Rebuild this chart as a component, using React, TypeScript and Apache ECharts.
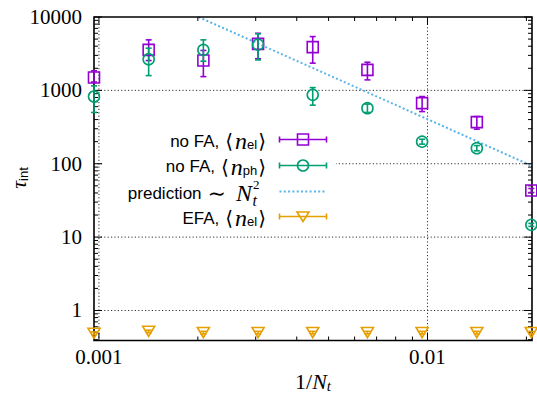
import React, { useEffect, useRef } from 'react';
import * as echarts from 'echarts';

// 1/N_t values
const xValues = [0.000966, 0.001417, 0.002079, 0.00305, 0.004474, 0.006564, 0.009629, 0.01413, 0.0207];

// no FA, <n_el>
const elValues = [1500, 3560, 2550, 4300, 3880, 1900, 670, 369, 43.1];
const elLow = [1300, 2550, 1540, 2700, 2350, 1390, 514, 296, 40.5];
const elHigh = [1850, 4880, 3500, 6000, 5410, 2420, 824, 440, 46];

// no FA, <n_ph>
const phValues = [824, 2660, 3560, 4200, 869, 572, 200, 163, 14.7];
const phLow = [500, 1590, 2500, 2600, 629, 500, 185, 150, 14];
const phHigh = [1150, 3760, 4880, 5900, 1091, 650, 216, 177, 15.4];

// EFA, <n_el>
const efaValues = [0.49, 0.52, 0.5, 0.5, 0.5, 0.5, 0.5, 0.5, 0.5];
const efaLow = [0.47, 0.5, 0.48, 0.48, 0.48, 0.48, 0.48, 0.48, 0.48];
const efaHigh = [0.51, 0.54, 0.52, 0.52, 0.52, 0.52, 0.52, 0.52, 0.52];

// prediction ~ N_t^2 (straight line in log-log, endpoints)
const predictionX = [0.00201, 0.0207];
const predictionY = [10000, 94.5];

// axes
const xMin = 0.000966;
const xMax = 0.0208;
const yMin = 0.39;
const yMax = 10000;
const xMajorTicks = [0.001, 0.01];
const xTickLabels = ['0.001', '0.01'];
const xMinorTicks = [0.002, 0.003, 0.004, 0.005, 0.006, 0.007, 0.008, 0.009, 0.02];
const yMajorTicks = [1, 10, 100, 1000, 10000];
const yTickLabels = ['1', '10', '100', '1000', '10000'];
const yMinorTicks = [
  0.4, 0.5, 0.6, 0.7, 0.8, 0.9,
  2, 3, 4, 5, 6, 7, 8, 9,
  20, 30, 40, 50, 60, 70, 80, 90,
  200, 300, 400, 500, 600, 700, 800, 900,
  2000, 3000, 4000, 5000, 6000, 7000, 8000, 9000,
];

const PURPLE = '#9400d3';
const GREEN = '#009e73';
const BLUE = '#56b4e9';
const ORANGE = '#e69f00';

const SERIF = '"Liberation Serif", "DejaVu Serif", serif';
const SANS = '"Liberation Sans", "DejaVu Sans", sans-serif';
const MATH = '"DejaVu Serif", serif';

function isDecade(v: number, list: number[]) {
  for (let i = 0; i < list.length; i++) {
    if (Math.abs(Math.log10(v) - Math.log10(list[i])) < 1e-6) return i;
  }
  return -1;
}

function errorBarSeries(name: string, vals: number[], lo: number[], hi: number[], color: string) {
  return {
    type: 'custom',
    name,
    clip: false,
    z: 7,
    data: xValues.map((x, i) => [x, vals[i], lo[i], hi[i]]),
    renderItem: (params: any, api: any) => {
      const x = api.value(0);
      const pLo = api.coord([x, api.value(2)]);
      const pHi = api.coord([x, api.value(3)]);
      const cw = 3;
      const st = { stroke: color, lineWidth: 1.6 };
      return {
        type: 'group',
        children: [
          { type: 'line', shape: { x1: pLo[0], y1: pLo[1], x2: pHi[0], y2: pHi[1] }, style: st },
          { type: 'line', shape: { x1: pLo[0] - cw, y1: pLo[1], x2: pLo[0] + cw, y2: pLo[1] }, style: st },
          { type: 'line', shape: { x1: pHi[0] - cw, y1: pHi[1], x2: pHi[0] + cw, y2: pHi[1] }, style: st },
        ],
      };
    },
  };
}

function markerSeries(name: string, vals: number[], color: string, symbol: string, size: any, rotate = 0) {
  return {
    type: 'scatter',
    name,
    clip: false,
    z: 8,
    symbol,
    symbolSize: size,
    symbolRotate: rotate,
    data: xValues.map((x, i) => [x, vals[i]]),
    itemStyle: { color: 'none', borderColor: color, borderWidth: 1.6, opacity: 1 },
    emphasis: { disabled: true },
  };
}

const richMain = {
  s: { fontFamily: SANS, fontSize: 17, color: '#000', lineHeight: 16 },
  m: { fontFamily: MATH, fontSize: 20, color: '#000', lineHeight: 16, padding: [0, 1, 0, 1] },
  mo: { fontFamily: MATH, fontSize: 20, color: '#000', lineHeight: 16, padding: [0, 2, 0, 6] },
  sim: { fontFamily: MATH, fontSize: 22, color: '#000', lineHeight: 16, padding: [0, 10, 0, 6] },
  i: { fontFamily: SERIF, fontStyle: 'italic', fontSize: 24, color: '#000', lineHeight: 16 },
  sub: { fontFamily: SANS, fontSize: 13, color: '#000', lineHeight: 8, padding: [7, 0, 0, 0] },
};

export default function App() {
  const ref = useRef<HTMLDivElement>(null);

  useEffect(() => {
    if (!ref.current) return;
    const chart = echarts.init(ref.current, undefined, { renderer: 'svg' });

    const rowsY = [139.5, 165.5, 191.5, 216.5];
    const textRight = 267;
    const sx1 = 279.5;
    const sx2 = 326.5;
    const mx = 303;

    const legendSample = (y: number, color: string) => [
      { type: 'line', z: 20, shape: { x1: sx1, y1: y, x2: sx2, y2: y }, style: { stroke: color, lineWidth: 1.6 } },
      { type: 'line', z: 20, shape: { x1: sx1, y1: y - 3, x2: sx1, y2: y + 3 }, style: { stroke: color, lineWidth: 1.6 } },
      { type: 'line', z: 20, shape: { x1: sx2, y1: y - 3, x2: sx2, y2: y + 3 }, style: { stroke: color, lineWidth: 1.6 } },
    ];

    const option: any = {
      animation: false,
      grid: { left: 94, top: 17, width: 438, height: 323.5, containLabel: false },
      xAxis: {
        type: 'log',
        logBase: 10,
        min: xMin,
        max: xMax,
        axisLine: { show: false },
        axisTick: { show: false },
        splitLine: { show: false },
        axisLabel: {
          interval: 0,
          margin: 6,
          fontFamily: SERIF,
          fontSize: 21,
          color: '#000',
          formatter: (v: number) => {
            const k = isDecade(v, xMajorTicks);
            return k >= 0 ? xTickLabels[k] : '';
          },
        },
      },
      yAxis: {
        type: 'log',
        logBase: 10,
        min: yMin,
        max: yMax,
        axisLine: { show: false },
        axisTick: { show: false },
        splitLine: { show: false },
        axisLabel: {
          interval: 0,
          margin: 12,
          fontFamily: SERIF,
          fontSize: 21,
          color: '#000',
          formatter: (v: number) => {
            const k = isDecade(v, yMajorTicks);
            return k >= 0 ? yTickLabels[k] : '';
          },
        },
      },
      series: [
        // grid lines
        {
          type: 'custom',
          name: 'grid',
          z: 1,
          silent: true,
          clip: false,
          data: [
            ...xMajorTicks.map((v) => [v, 1, 0]),
            ...yMajorTicks.filter((v) => v < yMax).map((v) => [0.001, v, 1]),
          ],
          renderItem: (params: any, api: any) => {
            const cs = params.coordSys;
            const p = api.coord([api.value(0), api.value(1)]);
            const st = { stroke: '#333', lineWidth: 1, lineDash: [1.2, 2.2] };
            if (api.value(2) === 0) {
              return { type: 'line', shape: { x1: p[0], y1: cs.y, x2: p[0], y2: cs.y + cs.height }, style: st };
            }
            return { type: 'line', shape: { x1: cs.x, y1: p[1], x2: cs.x + cs.width, y2: p[1] }, style: st };
          },
        },
        // ticks
        {
          type: 'custom',
          name: 'ticks',
          z: 6,
          silent: true,
          clip: false,
          data: [
            ...xMajorTicks.map((v) => [v, 1, 0, 1]),
            ...xMinorTicks.map((v) => [v, 1, 0, 0]),
            ...yMajorTicks.map((v) => [0.001, v, 1, 1]),
            ...yMinorTicks.map((v) => [0.001, v, 1, 0]),
          ],
          renderItem: (params: any, api: any) => {
            const cs = params.coordSys;
            const p = api.coord([api.value(0), api.value(1)]);
            const len = api.value(3) ? 8 : 4;
            const st = { stroke: '#000', lineWidth: 1 };
            if (api.value(2) === 0) {
              const b = cs.y + cs.height;
              return {
                type: 'group',
                children: [
                  { type: 'line', shape: { x1: p[0], y1: b, x2: p[0], y2: b - len }, style: st },
                  { type: 'line', shape: { x1: p[0], y1: cs.y, x2: p[0], y2: cs.y + len }, style: st },
                ],
              };
            }
            const r = cs.x + cs.width;
            return {
              type: 'group',
              children: [
                { type: 'line', shape: { x1: cs.x, y1: p[1], x2: cs.x + len, y2: p[1] }, style: st },
                { type: 'line', shape: { x1: r, y1: p[1], x2: r - len, y2: p[1] }, style: st },
              ],
            };
          },
        },
        // frame
        {
          type: 'custom',
          name: 'frame',
          z: 6,
          silent: true,
          clip: false,
          data: [[xMin, yMin]],
          renderItem: (params: any) => {
            const cs = params.coordSys;
            return {
              type: 'rect',
              shape: { x: cs.x, y: cs.y, width: cs.width, height: cs.height },
              style: { fill: 'none', stroke: '#000', lineWidth: 1.6 },
            };
          },
        },
        // prediction
        {
          type: 'line',
          name: 'prediction',
          z: 5,
          data: predictionX.map((x, i) => [x, predictionY[i]]),
          showSymbol: false,
          symbol: 'none',
          lineStyle: { color: BLUE, width: 2, type: [2, 2.3] },
          emphasis: { disabled: true },
        },
        errorBarSeries('elErr', elValues, elLow, elHigh, PURPLE),
        markerSeries('no FA, <n_el>', elValues, PURPLE, 'rect', 11),
        errorBarSeries('phErr', phValues, phLow, phHigh, GREEN),
        markerSeries('no FA, <n_ph>', phValues, GREEN, 'circle', 11),
        errorBarSeries('efaErr', efaValues, efaLow, efaHigh, ORANGE),
        markerSeries('EFA, <n_el>', efaValues, ORANGE, 'triangle', [12, 10], 180),
      ],
      graphic: [
        // legend background
        { type: 'rect', z: 15, shape: { x: 104, y: 127, width: 232, height: 102 }, style: { fill: '#fff' } },
        // row 1
        {
          type: 'text', z: 20, x: textRight, y: rowsY[0] + 1.5,
          style: { text: '{s|no FA,}{mo|⟨}{i|n}{sub|el}{m|⟩}', rich: richMain, align: 'right', verticalAlign: 'middle' },
        },
        ...legendSample(rowsY[0], PURPLE),
        { type: 'rect', z: 21, shape: { x: mx - 5.5, y: rowsY[0] - 5.5, width: 11, height: 11 }, style: { fill: 'none', stroke: PURPLE, lineWidth: 1.6 } },
        // row 2
        {
          type: 'text', z: 20, x: textRight, y: rowsY[1] + 1,
          style: { text: '{s|no FA,}{mo|⟨}{i|n}{sub|ph}{m|⟩}', rich: richMain, align: 'right', verticalAlign: 'middle' },
        },
        ...legendSample(rowsY[1], GREEN),
        { type: 'circle', z: 21, shape: { cx: mx, cy: rowsY[1], r: 5.5 }, style: { fill: 'none', stroke: GREEN, lineWidth: 1.6 } },
        // row 3
        {
          type: 'text', z: 20, x: 252, y: rowsY[2] + 1.5,
          style: { text: '{s|prediction}{sim|∼}{i|N}', rich: richMain, align: 'right', verticalAlign: 'middle' },
        },
        {
          type: 'text', z: 20, x: 252.5, y: 200.5,
          style: { text: 't', fontFamily: SERIF, fontStyle: 'italic', fontSize: 16, lineHeight: 12, fill: '#000', align: 'left', verticalAlign: 'middle' },
        },
        {
          type: 'text', z: 20, x: 253, y: 184,
          style: { text: '2', fontFamily: SERIF, fontSize: 13, lineHeight: 12, fill: '#000', align: 'left', verticalAlign: 'middle' },
        },
        { type: 'line', z: 20, shape: { x1: sx1, y1: rowsY[2], x2: sx2, y2: rowsY[2] }, style: { stroke: BLUE, lineWidth: 2, lineDash: [2, 2.3] } },
        // row 4
        {
          type: 'text', z: 20, x: textRight, y: rowsY[3] + 1.5,
          style: { text: '{s|EFA,}{mo|⟨}{i|n}{sub|el}{m|⟩}', rich: richMain, align: 'right', verticalAlign: 'middle' },
        },
        ...legendSample(rowsY[3], ORANGE),
        {
          type: 'polygon', z: 21,
          shape: { points: [[mx - 6, rowsY[3] - 4.5], [mx + 6, rowsY[3] - 4.5], [mx, rowsY[3] + 5]] },
          style: { fill: 'none', stroke: ORANGE, lineWidth: 1.6 },
        },
        // axis titles
        {
          type: 'text', z: 20, x: 313, y: 381,
          style: {
            text: '{r|1/}{i|N}{subi|t}',
            rich: {
              r: { fontFamily: SERIF, fontSize: 22, color: '#000' },
              i: { fontFamily: SERIF, fontStyle: 'italic', fontSize: 22, color: '#000' },
              subi: { fontFamily: SERIF, fontStyle: 'italic', fontSize: 15, color: '#000', padding: [10, 0, 0, 0] },
            },
            align: 'center',
            verticalAlign: 'middle',
          },
        },
        {
          type: 'text', z: 20, x: 18, y: 178, rotation: Math.PI / 2,
          style: {
            text: '{t|τ}{sub|int}',
            rich: {
              t: { fontFamily: SERIF, fontStyle: 'italic', fontSize: 22, color: '#000' },
              sub: { fontFamily: SANS, fontSize: 13, color: '#000', padding: [10, 0, 0, 0] },
            },
            align: 'center',
            verticalAlign: 'middle',
          },
        },
      ],
    };

    chart.setOption(option);
    return () => chart.dispose();
  }, []);

  return (
    <div
      ref={ref}
      style={{ position: 'absolute', left: 0, top: 0, width: 537, height: 395, background: '#fff' }}
    />
  );
}
